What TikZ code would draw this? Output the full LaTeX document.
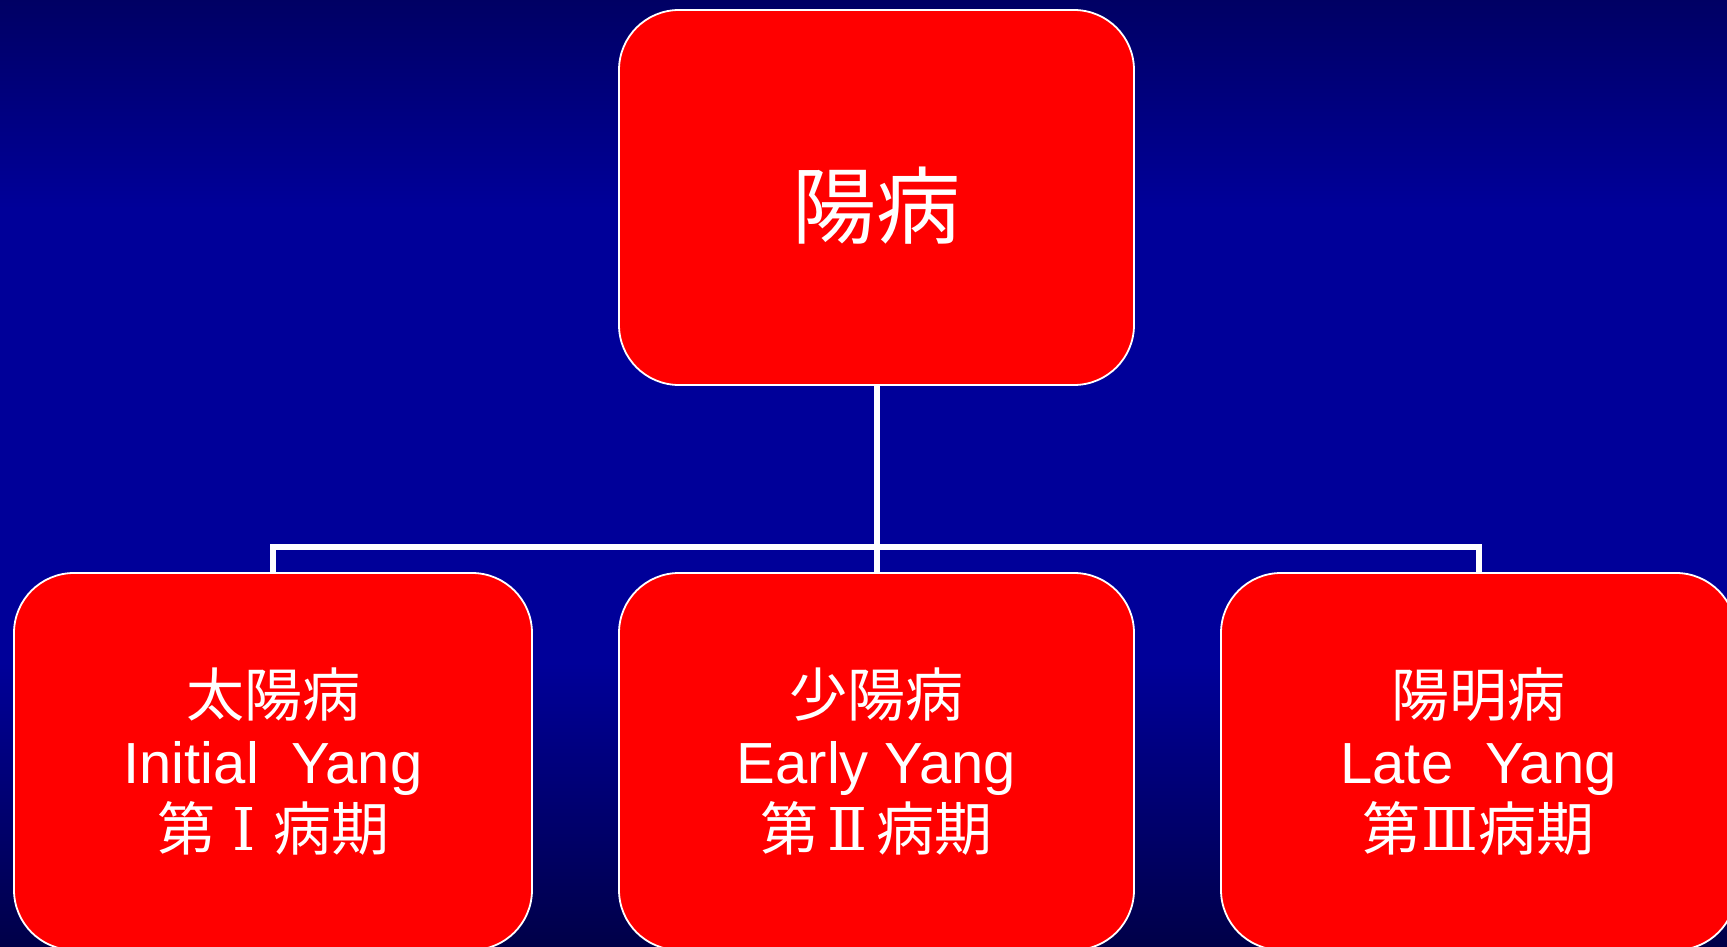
\documentclass[tikz,border=0pt]{standalone}
\usepackage{fontspec}
\setmainfont{Liberation Sans}
\newfontfamily\cjk{Noto Sans CJK JP}
\newfontfamily\rmn{DejaVu Serif}
\newcommand{\rnum}[1]{\makebox[58pt][c]{\rmn\fontsize{59}{67}\selectfont #1}}
\definecolor{bgtop}{RGB}{0,0,100}
\definecolor{bgmid}{RGB}{0,0,153}
\definecolor{bgbot}{RGB}{0,0,72}
\pgfdeclareverticalshading{bgshade}{100bp}{color(0bp)=(bgbot); color(25bp)=(bgbot); color(40bp)=(bgmid); color(64bp)=(bgmid); color(75bp)=(bgtop); color(100bp)=(bgtop)}
\begin{document}
\begin{tikzpicture}[x=1pt,y=-1pt,
  box/.style={draw=white, line width=1.8pt, fill=red, rounded corners=60pt,
    minimum width=515pt, inner sep=0pt, align=center, text=white},
  conn/.style={draw=white, line width=6pt}]
\useasboundingbox (0,0) rectangle (1727,947);
\clip (0,0) rectangle (1727,947);
\shade[shading=bgshade] (0,0) rectangle (1727,947);
\coordinate (bus) at (876.5,547);
\node[box, minimum height=375pt, text height=80pt, text depth=0pt, font=\cjk\fontsize{84}{90}\selectfont] (top) at (876.5,197.5) {陽病};
\node[box, minimum width=518pt, minimum height=377pt, font=\fontsize{58}{67}\selectfont] (b1) at (273,761.5)
  {{\cjk 太陽病}\\Initial\ \ Yang\\{\cjk 第}\rnum{Ⅰ}{\cjk 病期}};
\node[box, minimum height=377pt, font=\fontsize{58}{67}\selectfont] (b2) at (876.5,761.5)
  {{\cjk 少陽病}\\Early Yang\\{\cjk 第}\rnum{Ⅱ}{\cjk 病期}};
\node[box, minimum height=377pt, font=\fontsize{58}{67}\selectfont] (b3) at (1478.5,761.5)
  {{\cjk 陽明病}\\Late\ \ Yang\\{\cjk 第}\rnum{Ⅲ}{\cjk 病期}};
\draw[conn] (top.south) -- (b2.north);
\draw[conn] (b1.north) |- (bus) -| (b3.north);
\end{tikzpicture}
\end{document}
